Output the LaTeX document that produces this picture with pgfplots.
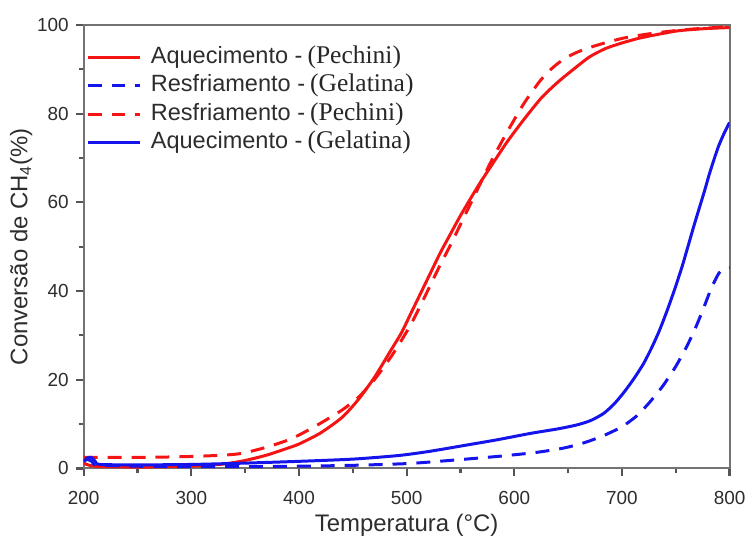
\documentclass[border=0pt]{standalone}
\usepackage{fontspec}
\setmainfont{Liberation Sans}
\newfontfamily\legserif{Liberation Serif}
\usepackage{pgfplots}
\pgfplotsset{compat=1.18}

\definecolor{cred}{RGB}{245,20,20}
\definecolor{cblue}{RGB}{20,20,235}
\definecolor{axgray}{RGB}{115,115,115}
\definecolor{tickgray}{RGB}{85,85,85}
\definecolor{txt}{RGB}{45,45,45}

\newcommand{\mat}[1]{\hspace{2.5pt}{\legserif\fontsize{12.8}{13}\selectfont\color{black!85}#1}}
\tikzset{cv/.style={line width=1.5pt, smooth, tension=0.4}}

\begin{document}
\begin{tikzpicture}
\begin{axis}[
  at={(0,0)}, anchor=south west,
  width=324pt, height=222.5pt, scale only axis,
  xmin=200, xmax=800, ymin=0, ymax=100,
  xtick={200,300,...,800}, ytick={0,20,...,100},
  minor x tick num=1, minor y tick num=1,
  tick align=outside, tick pos=left,
  major tick length=4pt, minor tick length=2.5pt,
  tick style={tickgray, line width=1.1pt},
  axis line style={axgray, line width=1pt},
  tick label style={font=\fontsize{9.5}{10}\selectfont, text=txt},
  xticklabel style={yshift=-4pt},
  /pgf/number format/assume math mode=true,
  label style={font=\fontsize{12}{13}\selectfont, text=txt},
  xlabel={Temperatura (°C)},
  ylabel={Conversão de CH\textsubscript{4}(\%)},
  xlabel style={yshift=2pt},
  ylabel style={yshift=-4.5pt},
  legend style={draw=none, fill=none, at={(0,1)}, anchor=north west,
    xshift=1pt, yshift=-10pt, inner sep=0pt, row sep=2.3pt,
    font=\fontsize{11.8}{12}\selectfont, text=txt,
    nodes={inner xsep=5pt, inner ysep=0pt, text height=9pt, text depth=3pt}},
  legend cell align=left,
  legend image code/.code={\draw[#1] plot coordinates {(0pt,0pt) (26pt,0pt)};},
]
% Aquecimento - Pechini
\addplot[cred, cv] coordinates {
(200,1.2)(210,0.5)(250,0.3)(300,0.5)(330,1.0)(350,1.8)(370,3.0)(385,4.2)(400,5.5)
(420,8)(440,11.5)(455,15.5)(470,20.5)(485,26.5)(495,30.5)(504,35)(513,39.5)(522,44)
(531,48.5)(541,53)(550,57)(559,60.7)(568,64.3)(578,68)(593,73.5)(609,78.7)(625,83.5)
(640,87)(655,90)(670,92.8)(685,94.7)(701,96)(716,97)(732,97.8)(750,98.6)(762,98.9)
(780,99.2)(800,99.4)};
% Resfriamento - Gelatina
\addplot[cblue, cv, dash pattern=on 7pt off 5pt] coordinates {
(200,1.8)(204,2)(208,1.5)(212,0.8)(250,0.5)(300,0.4)(350,0.4)(400,0.5)(450,0.7)
(501,1.1)(540,1.8)(584,2.7)(620,3.6)(646,4.6)(665,5.8)(683,7.4)(700,9.4)(713,11.7)
(725,14.7)(738,18.6)(750,23)(760,27.4)(768,31.5)(775,35.6)(783,40.6)(790,44)
(795,45)(800,45.3)};
% Resfriamento - Pechini
\addplot[cred, cv, dash pattern=on 7pt off 5pt] coordinates {
(200,2.5)(225,2.5)(260,2.5)(300,2.7)(330,3.0)(347,3.4)(370,4.8)(393,6.7)(415,9.5)
(439,13)(455,16)(470,20)(485,25)(495,28.8)(504,32.5)(513,36.8)(522,41.3)(531,45.8)
(541,50.5)(550,55)(559,59.5)(568,64)(578,69)(593,75.7)(609,82.3)(624,87.4)(635,90.2)
(646,92.3)(658,93.8)(670,94.9)(685,96)(701,97)(720,97.8)(738,98.4)(762,99)(780,99.3)
(800,99.6)};
% Aquecimento - Gelatina
\addplot[cblue, cv] coordinates {
(200,1.5)(203,2.3)(207,2.5)(211,1.5)(215,0.9)(250,0.8)(300,0.9)(350,1.2)(400,1.6)
(450,2.1)(492,2.9)(520,3.8)(554,5.2)(585,6.5)(615,7.9)(640,8.9)(658,9.8)(671,10.8)
(683,12.4)(693,14.6)(702,17.2)(711,20.2)(720,23.6)(728,27.4)(735,31.2)(742,35.6)
(749,40.4)(756,45.6)(762,50.6)(767,54.8)(772,58.8)(777,62.8)(781,66.2)(786,70)
(790,72.8)(795,75.6)(800,78)};
\legend{Aquecimento -\mat{(Pechini)}, Resfriamento -\mat{(Gelatina)},
        Resfriamento -\mat{(Pechini)}, Aquecimento -\mat{(Gelatina)}}
\end{axis}
\path (-42pt,-37.5pt) rectangle (334pt,235pt);
\end{tikzpicture}
\end{document}
